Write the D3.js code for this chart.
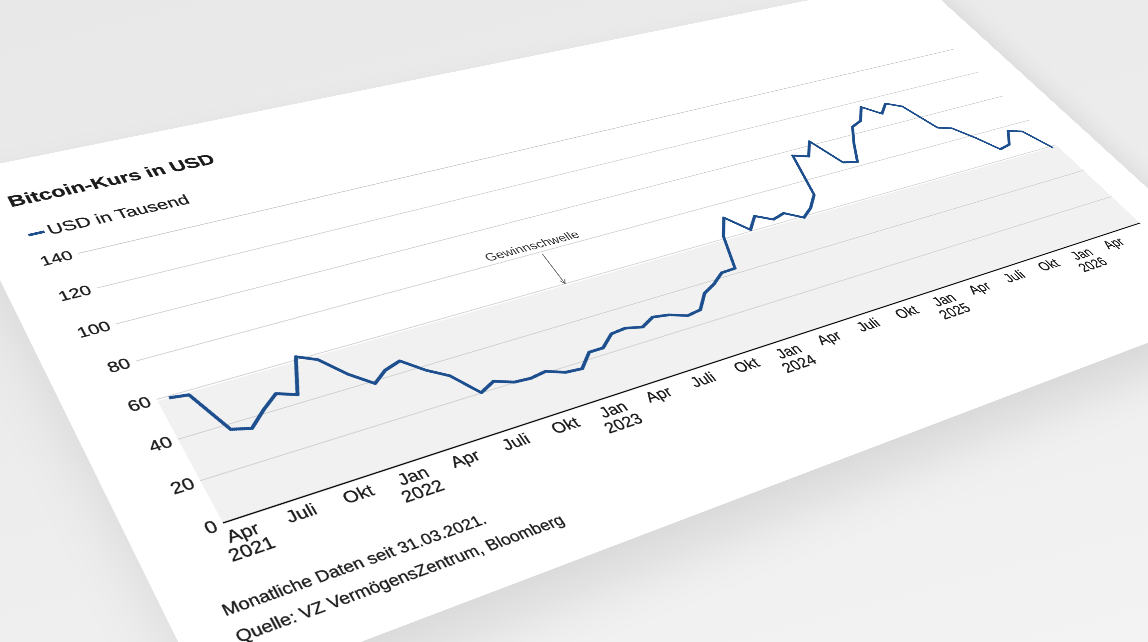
<!DOCTYPE html>
<html>
<head>
<meta charset="utf-8">
<script src="https://cdn.jsdelivr.net/npm/d3@7"></script>
<style>
  html, body { margin: 0; padding: 0; width: 1148px; height: 642px; overflow: hidden;
    background: linear-gradient(165deg, #e8e8e9 0%, #ececed 45%, #f3f3f4 100%); }
  #card { position: absolute; left: 0; top: 0; transform-origin: 0 0; background: #fff;
    box-shadow: 0 50px 90px rgba(0,0,0,0.10); }
  #card svg text { font-family: "Liberation Sans", Arial, sans-serif; }
</style>
</head>
<body>
<div id="card"></div>
<script>
// monthly closing prices, USD thousand
const months = [
  '2021-03','2021-04','2021-05','2021-06','2021-07','2021-08','2021-09','2021-10','2021-11','2021-12',
  '2022-01','2022-02','2022-03','2022-04','2022-05','2022-06','2022-07','2022-08','2022-09','2022-10','2022-11','2022-12',
  '2023-01','2023-02','2023-03','2023-04','2023-05','2023-06','2023-07','2023-08','2023-09','2023-10','2023-11','2023-12',
  '2024-01','2024-02','2024-03','2024-04','2024-05','2024-06','2024-07','2024-08','2024-09','2024-10','2024-11','2024-12',
  '2025-01','2025-02','2025-03','2025-04','2025-05','2025-06','2025-07','2025-08','2025-09','2025-10','2025-11','2025-12',
  '2026-01','2026-02','2026-03','2026-04','2026-05','2026-06'
];
const prices = [
  58.9, 57.7, 37.3, 35.0, 41.5, 47.1, 43.8, 61.3, 57.0, 46.3,
  38.5, 43.2, 45.5, 37.7, 31.8, 19.9, 23.3, 20.0, 19.4, 20.5, 17.2, 16.5,
  23.1, 23.1, 28.5, 29.2, 27.2, 30.5, 29.2, 26.0, 27.0, 34.5, 37.7, 42.3,
  42.6, 61.2, 71.3, 60.6, 67.5, 62.7, 64.6, 59.0, 63.3, 70.2, 96.4, 93.4,
  102.4, 84.4, 82.5, 94.2, 104.6, 107.1, 115.8, 108.2, 114.1, 109.6, 90.4, 87.5,
  77.5, 66.6, 68.0, 76.6, 73.7, 58.5
];
const breakEven = 58.9;
const yTicks = [0, 20, 40, 60, 80, 100, 120, 140];
const monthNames = {0: 'Jan', 3: 'Apr', 6: 'Juli', 9: 'Okt'};

// flat layout of the card, before the perspective
const pl = 65, pt = 122, PW = 960, PH = 292;
const CW = 1075, CH = 542, K = 2;
const ink = '#1c1c1c';

const parseMonth = d3.timeParse('%Y-%m');
const data = months.map((m, i) => ({
  date: d3.timeDay.offset(d3.timeMonth.offset(parseMonth(m), 1), -1),
  value: prices[i]
}));

const card = d3.select('#card').style('width', CW * K + 'px').style('height', CH * K + 'px');
const svg = card.append('svg').attr('width', CW * K).attr('height', CH * K)
  .attr('viewBox', `0 0 ${CW} ${CH}`);

const xScale = d3.scaleTime().domain([new Date(2021, 2, 13), new Date(2026, 6, 14)]).range([0, PW]);
const yScale = d3.scaleLinear().domain([0, 140]).range([PH, 0]);

const g = svg.append('g').attr('transform', `translate(${pl},${pt})`);

function inked(sel) {
  return sel.attr('fill', ink).attr('stroke', ink).attr('stroke-width', 0.25);
}

// title + legend
inked(g.append('text').attr('x', -31).attr('y', -68).text('Bitcoin-Kurs in USD')
  .style('font-size', '18.5px').style('font-weight', 'bold'));
g.append('line').attr('x1', -29).attr('x2', -16).attr('y1', -32).attr('y2', -32)
  .attr('stroke', '#1d4f8e').attr('stroke-width', 3);
inked(g.append('text').attr('x', -13).attr('y', -27).text('USD in Tausend')
  .style('font-size', '16.5px'));

// break-even band
g.append('rect').attr('x', 0).attr('width', PW)
  .attr('y', yScale(breakEven)).attr('height', yScale(0) - yScale(breakEven))
  .attr('fill', '#f1f1f2');

// y grid + labels
g.append('g').call(d3.axisLeft(yScale).tickValues(yTicks).tickSize(-PW).tickPadding(5))
  .call(ax => ax.select('.domain').remove())
  .call(ax => ax.selectAll('.tick line').attr('stroke', d => d === 0 ? 'none' : '#cfcfcf').attr('stroke-width', 0.9))
  .call(ax => inked(ax.selectAll('.tick text')).style('font-size', '15px')
    .style('font-family', '"Liberation Sans", Arial, sans-serif'));

// x axis
g.append('line').attr('x1', 0).attr('x2', PW).attr('y1', PH).attr('y2', PH)
  .attr('stroke', '#111').attr('stroke-width', 1.2);
const ticks = d3.timeMonth.every(3).range(new Date(2021, 3, 1), new Date(2026, 4, 2));
const tk = inked(g.append('g').selectAll('text').data(ticks).enter().append('text')
  .attr('x', d => xScale(d)).attr('y', PH + 18)
  .attr('text-anchor', 'middle').style('font-size', '15px'));
tk.append('tspan').attr('x', d => xScale(d)).text(d => monthNames[d.getMonth()]);
tk.filter((d, i) => i === 0 || d.getMonth() === 0).append('tspan')
  .attr('x', d => xScale(d)).attr('dy', 15.5).text(d => d.getFullYear());

// annotation
svg.append('defs').append('marker').attr('id', 'arr').attr('viewBox', '0 0 8 8')
  .attr('refX', 7).attr('refY', 4).attr('markerWidth', 7).attr('markerHeight', 7).attr('orient', 'auto')
  .append('path').attr('d', 'M1,1 L7,4 L1,7').attr('fill', 'none').attr('stroke', '#555').attr('stroke-width', 1);
const annDate = new Date(2023, 2, 18);
g.append('line').attr('x1', xScale(annDate)).attr('x2', xScale(annDate))
  .attr('y1', yScale(78.5)).attr('y2', yScale(59.8))
  .attr('stroke', '#666').attr('stroke-width', 0.9).attr('marker-end', 'url(#arr)');
g.append('text').attr('x', xScale(annDate) - 3).attr('y', yScale(82)).attr('text-anchor', 'middle')
  .text('Gewinnschwelle').style('font-size', '13px').attr('fill', '#333');

// price line
g.append('path').datum(data)
  .attr('d', d3.line().x(d => xScale(d.date)).y(d => yScale(d.value)))
  .attr('fill', 'none').attr('stroke', '#1d4f8e').attr('stroke-width', 3)
  .attr('stroke-linejoin', 'round');

// notes
inked(g.append('text').attr('x', -29).attr('y', PH + 73).text('Monatliche Daten seit 31.03.2021.')
  .style('font-size', '13.5px'));
inked(g.append('text').attr('x', -29).attr('y', PH + 96).text('Quelle: VZ VermögensZentrum, Bloomberg')
  .style('font-size', '13.5px'));

// perspective: map plot corners onto the photographed quad
function squareToQuad(p) {
  const [x0, y0] = p[0], [x1, y1] = p[1], [x2, y2] = p[2], [x3, y3] = p[3];
  const sx = x0 - x1 + x2 - x3, sy = y0 - y1 + y2 - y3;
  const dx1 = x1 - x2, dx2 = x3 - x2, dy1 = y1 - y2, dy2 = y3 - y2;
  const den = dx1 * dy2 - dx2 * dy1;
  const gg = (sx * dy2 - dx2 * sy) / den, hh = (dx1 * sy - sx * dy1) / den;
  return [[x1 - x0 + gg * x1, x3 - x0 + hh * x3, x0],
          [y1 - y0 + gg * y1, y3 - y0 + hh * y3, y0],
          [gg, hh, 1]];
}
function mul(A, B) {
  return A.map(r => B[0].map((_, j) => r[0] * B[0][j] + r[1] * B[1][j] + r[2] * B[2][j]));
}
// (u,v) corners: (0,0) bottom-left, (1,0) bottom-right, (1,1) top-right, (0,1) top-left
const Hq = squareToQuad([[223, 523], [1140, 223], [953, 49], [78, 253]]);
const S = [[1 / (PW * K), 0, -pl / PW], [0, -1 / (PH * K), (pt + PH) / PH], [0, 0, 1]];
const M = mul(Hq, S);
card.style('transform', `matrix3d(${M[0][0]},${M[1][0]},0,${M[2][0]},${M[0][1]},${M[1][1]},0,${M[2][1]},0,0,1,0,${M[0][2]},${M[1][2]},0,${M[2][2]})`);
</script>
</body>
</html>
